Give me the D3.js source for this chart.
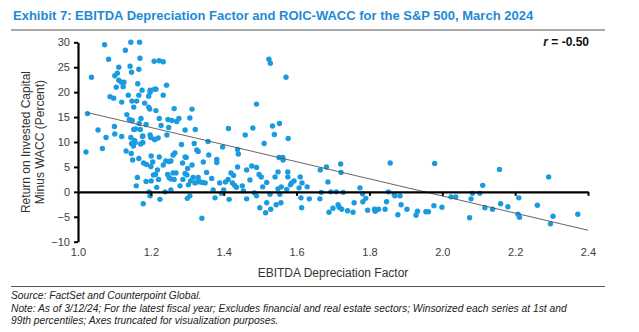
<!DOCTYPE html>
<html>
<head>
<meta charset="utf-8">
<script src="https://cdn.jsdelivr.net/npm/d3@7/dist/d3.min.js"></script>
<style>
  body { margin: 0; background: #fff; }
  text { font-family: "Liberation Sans", Arial, sans-serif; }
</style>
</head>
<body>
<div id="chart"></div>
<script>
// EBITDA depreciation factor (x) and ROIC minus WACC in percent (y), one entry per company
var ebitdaFactor = [
  1.026,1.037,1.055,1.073,1.077,1.084,1.088,1.098,1.101,1.108,1.112,1.112,1.105,1.120,1.124,1.126,1.119,1.100,1.101,1.120,
  1.130,1.145,1.169,1.170,1.143,1.147,1.167,1.164,1.138,1.148,1.161,1.167,1.176,1.153,1.134,1.141,1.149,1.153,1.158,1.173,
  1.168,1.171,1.145,1.178,1.187,1.183,1.194,1.198,1.198,1.194,1.197,1.198,1.200,1.210,1.214,1.209,1.223,1.234,1.243,1.234,
  1.214,1.223,1.228,1.247,1.249,1.258,1.264,1.271,1.277,1.294,1.307,1.313,1.322,1.244,1.220,1.210,1.490,1.413,1.459,1.480,
  1.524,1.528,1.571,1.534,1.553,1.539,1.577,
  1.022,1.067,1.132,1.146,1.150,1.147,1.152,1.157,1.155,1.172,1.178,1.177,1.167,1.180,1.188,1.201,1.205,1.211,1.223,1.200,
  1.207,1.213,1.221,1.218,1.163,1.187,1.160,1.201,1.216,1.195,1.198,1.179,1.225,1.234,1.241,1.250,1.255,1.246,1.250,1.261,
  1.269,1.261,1.266,1.239,1.255,1.255,1.264,1.284,1.287,1.294,1.297,1.294,1.299,1.288,1.280,1.301,1.309,1.303,1.313,1.319,
  1.326,1.330,1.316,1.330,1.321,1.327,1.336,1.307,1.300,1.340,1.344,1.357,1.359,1.353,1.342,1.349,1.367,1.371,1.381,1.381,
  1.389,1.376,1.397,1.400,1.394,1.405,1.412,1.415,1.420,1.427,1.424,1.430,1.435,1.438,1.438,1.440,1.451,1.454,1.463,1.463,
  1.472,1.477,1.484,1.490,1.497,1.503,1.507,1.490,1.499,1.511,
  1.552,1.562,1.563,1.518,1.541,1.549,1.576,1.576,1.586,1.593,1.583,1.549,1.558,1.573,1.554,1.557,1.544,1.529,1.515,1.518,
  1.527,1.610,1.615,1.607,1.629,1.612,1.614,1.635,1.665,1.682,1.686,1.668,1.664,1.694,1.709,1.728,1.721,1.722,1.700,1.689,
  1.714,1.717,1.724,1.740,1.755,1.758,1.774,1.781,1.782,1.790,1.795,1.814,1.816,1.825,1.843,1.847,1.852,1.857,1.868,1.870,
  1.878,1.884,1.887,1.903,1.928,1.932,1.955,1.962,1.979,1.977,1.999,2.024,2.037,
  2.075,2.079,2.083,2.103,2.111,2.117,2.138,2.157,2.160,2.180,2.210,2.208,2.212,2.261,2.292,2.304,2.297,2.372
];
var roicWacc = [
  15.7,23.0,12.4,29.5,10.9,26.6,19.1,18.8,23.3,23.8,25.0,22.4,21.0,18.0,21.1,22.0,22.0,13.1,11.6,11.1,
  28.4,30.0,30.0,26.8,25.2,24.0,24.6,21.7,19.4,18.2,18.2,19.4,20.4,17.0,15.5,14.5,14.3,12.5,12.6,14.7,
  13.7,12.5,10.9,11.2,13.5,17.8,19.2,20.4,20.0,17.0,16.6,11.4,10.9,20.6,20.6,26.2,26.3,26.1,21.4,19.4,
  16.3,14.7,13.3,14.5,12.9,14.3,16.7,14.1,14.7,12.4,14.8,16.6,12.5,11.4,10.8,10.5,17.6,12.7,11.4,12.8,
  26.6,25.8,23.0,13.2,13.7,11.5,10.7,
  8.0,8.7,8.2,7.7,6.4,9.7,9.2,9.9,10.3,9.6,9.9,11.1,6.7,5.8,5.5,7.2,6.0,10.5,7.0,5.1,
  3.4,3.5,2.5,4.4,2.9,2.1,1.2,2.2,0.9,0.0,-0.8,-2.4,-1.5,5.4,6.2,6.1,6.2,3.5,2.9,3.8,
  3.8,7.4,7.8,0.0,0.4,2.6,2.5,9.5,5.8,7.0,6.9,3.7,3.4,2.5,1.2,4.7,2.2,1.4,5.4,9.7,
  8.4,8.1,2.9,2.9,1.8,2.0,2.0,-0.8,-1.3,-5.3,6.0,10.1,7.4,3.9,1.9,1.8,2.7,0.4,6.5,5.9,
  1.8,-1.2,9.0,0.4,-0.3,2.0,2.5,-1.5,3.8,3.3,1.8,1.3,0.9,5.0,8.5,7.6,1.2,0.2,4.4,-1.4,
  2.4,5.2,-0.2,4.9,3.5,3.0,1.0,-0.8,-3.2,9.7,
  6.9,6.9,6.4,1.9,3.0,4.0,4.0,3.0,1.8,2.2,1.4,0.6,1.0,0.5,-0.5,-2.2,-2.6,-3.5,-4.2,-2.2,
  -0.5,3.0,1.8,0.8,1.0,-1.2,-3.2,-1.4,4.4,5.0,2.0,-0.1,-1.4,0.0,0.0,-0.1,5.6,3.9,-3.3,-4.1,
  -2.6,-3.1,-3.5,-3.8,-4.1,-2.2,0.8,-0.4,-2.0,-1.3,-3.7,-3.5,-3.9,-3.5,-3.5,-2.0,0.0,5.8,-0.5,-0.8,
  -4.6,-0.8,-2.6,-3.5,-4.7,-3.9,-4.0,-4.0,5.7,-2.8,-3.1,-1.0,-1.0,
  -5.2,-1.4,-0.3,-0.3,1.3,-3.2,-3.5,4.5,-2.4,-3.0,-1.2,-4.5,-5.1,-2.7,3.0,-4.9,-6.4,-4.5
];

// fitted regression line, start and end
var trendX = [1.026, 2.4];
var trendY = [15.9, -7.7];

var xTicks = [1.0, 1.2, 1.4, 1.6, 1.8, 2.0, 2.2, 2.4];
var yTicks = [-10, -5, 0, 5, 10, 15, 20, 25, 30];

var title = "Exhibit 7: EBITDA Depreciation Factor and ROIC-WACC for the S&P 500, March 2024";
var notes = [
  "Source: FactSet and Counterpoint Global.",
  "Note: As of 3/12/24; For the latest fiscal year; Excludes financial and real estate sectors; Winsorized each series at 1st and",
  "99th percentiles; Axes truncated for visualization purposes."
];

var width = 639, height = 332;
var plot = { left: 78, right: 588, top: 42.3, bottom: 241.7 };

var svg = d3.select("#chart")
  .append("svg")
  .attr("width", width)
  .attr("height", height);

// title and rules
svg.append("text")
  .attr("x", 13).attr("y", 20)
  .attr("fill", "#1f8ad4")
  .attr("font-weight", "bold")
  .attr("font-size", "13px")
  .text(title);

svg.append("line")
  .attr("x1", 11).attr("x2", 605).attr("y1", 30).attr("y2", 30)
  .attr("stroke", "#8c8c8c").attr("stroke-width", 1.5);

svg.append("line")
  .attr("x1", 11).attr("x2", 605).attr("y1", 286.5).attr("y2", 286.5)
  .attr("stroke", "#555").attr("stroke-width", 1);

var x = d3.scaleLinear().domain([1.0, 2.4]).range([plot.left, plot.right]);
var y = d3.scaleLinear().domain([-10, 30]).range([plot.bottom, plot.top]);

var data = ebitdaFactor.map(function (d, i) { return { x: d, y: roicWacc[i] }; });

// dots
svg.append("g")
  .selectAll("circle")
  .data(data)
  .enter()
  .append("circle")
  .attr("cx", function (d) { return x(d.x); })
  .attr("cy", function (d) { return y(d.y); })
  .attr("r", 2.7)
  .style("fill", "#1a9be0");

// trend line
svg.append("line")
  .attr("x1", x(trendX[0])).attr("y1", y(trendY[0]))
  .attr("x2", x(trendX[1])).attr("y2", y(trendY[1]))
  .attr("stroke", "#555").attr("stroke-width", 0.9);

// Y axis
var yAxis = svg.append("g")
  .attr("transform", "translate(" + plot.left + ",0)")
  .call(d3.axisLeft(y).tickValues(yTicks).tickSize(4).tickSizeOuter(0).tickPadding(4));
yAxis.select(".domain").attr("stroke", "#000").attr("stroke-width", 2.2);
yAxis.selectAll(".tick line").attr("stroke", "#000").attr("stroke-width", 2);
yAxis.selectAll(".tick text")
  .attr("font-size", "11px").attr("fill", "#404040")
  .attr("font-family", "Liberation Sans, Arial, sans-serif");

// X axis line sits at zero
var zeroAxis = svg.append("g")
  .attr("transform", "translate(0," + y(0) + ")")
  .call(d3.axisBottom(x).tickValues(xTicks.slice(1)).tickSize(4).tickSizeOuter(0).tickFormat(""));
zeroAxis.select(".domain").attr("stroke", "#000").attr("stroke-width", 2.2);
zeroAxis.selectAll(".tick line").attr("stroke", "#000").attr("stroke-width", 2);

// X tick labels under the plot
var xLabels = svg.append("g")
  .attr("transform", "translate(0," + (plot.bottom + 1) + ")")
  .call(d3.axisBottom(x).tickValues(xTicks).tickSize(0).tickPadding(6).tickFormat(d3.format(".1f")));
xLabels.select(".domain").remove();
xLabels.selectAll(".tick text")
  .attr("font-size", "11px").attr("fill", "#404040")
  .attr("font-family", "Liberation Sans, Arial, sans-serif");

// axis titles
svg.append("text")
  .attr("x", (plot.left + plot.right) / 2).attr("y", 277)
  .attr("text-anchor", "middle")
  .attr("font-size", "12px").attr("fill", "#333")
  .text("EBITDA Depreciation Factor");

var yTitle = svg.append("text")
  .attr("transform", "translate(29.5," + ((plot.top + plot.bottom) / 2) + ") rotate(-90)")
  .attr("text-anchor", "middle")
  .attr("font-size", "12px").attr("fill", "#333");
yTitle.append("tspan").attr("x", 0).attr("y", 0).text("Return on Invested Capital");
yTitle.append("tspan").attr("x", 0).attr("y", 14.5).text("Minus WACC (Percent)");

// correlation label
var rLabel = svg.append("text")
  .attr("x", plot.right + 1).attr("y", 46)
  .attr("text-anchor", "end")
  .attr("font-size", "12px").attr("font-weight", "bold").attr("fill", "#111");
rLabel.append("tspan").attr("font-style", "italic").text("r");
rLabel.append("tspan").text(" = -0.50");

// footnotes
svg.append("g")
  .selectAll("text")
  .data(notes)
  .enter()
  .append("text")
  .attr("x", 11)
  .attr("y", function (d, i) { return 299 + i * 12.5; })
  .attr("font-size", "10.25px").attr("font-style", "italic").attr("fill", "#222")
  .text(function (d) { return d; });
</script>
</body>
</html>
